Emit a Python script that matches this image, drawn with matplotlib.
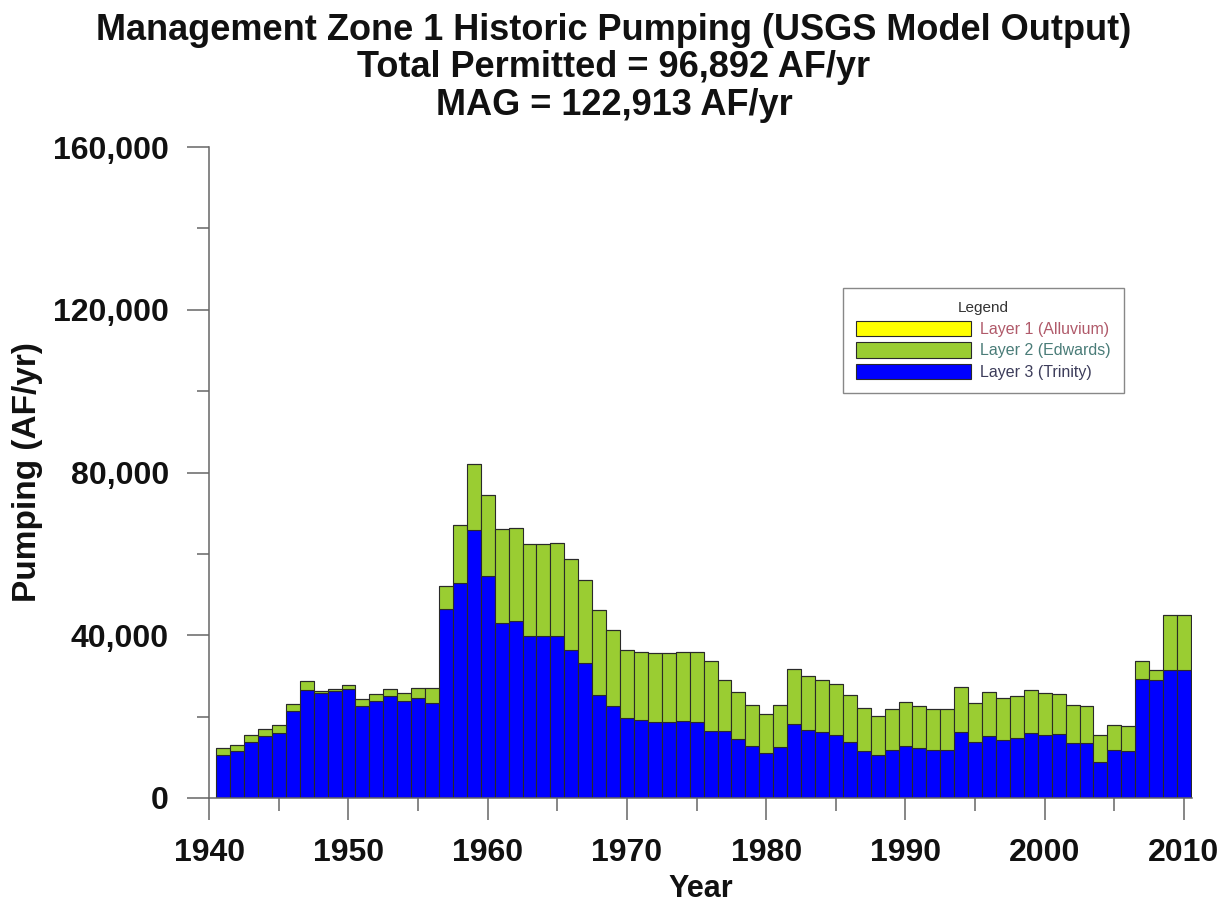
import numpy as np
import matplotlib
matplotlib.use("Agg")
import matplotlib.pyplot as plt
from matplotlib.ticker import MultipleLocator, FuncFormatter

plt.rcParams['font.family'] = ['Liberation Sans', 'DejaVu Sans']

# pumping by layer, AF/yr
years = np.arange(1941, 2011)

alluvium = np.zeros(len(years))

edwards = [1650, 1640, 1890, 1890, 1870, 1890, 2040, 400, 600, 990,
           1640, 1900, 1820, 2070, 2460, 3690, 5550, 14330, 16390, 19910,
           23110, 22860, 22790, 22710, 22790, 22300, 20480, 20890, 18680, 16620,
           16720, 17060, 16980, 17130, 17380, 17040, 12540, 11380, 10240, 9590,
           10490, 13520, 13100, 12860, 12460, 11560, 10390, 9590, 10010, 10810,
           10400, 10010, 10010, 10970, 9590, 10650, 10250, 10500, 10640, 10250,
           9830, 9410, 9000, 6710, 6070, 6140, 4330, 2540, 13340, 13340]

trinity = [10640, 11460, 13670, 15140, 15980, 21290, 26620, 25810, 26200, 26790,
           22690, 23740, 24970, 23740, 24580, 23350, 46460, 52850, 65780, 54640,
           43010, 43410, 39720, 39720, 39890, 36450, 33180, 25220, 22690, 19660,
           19070, 18580, 18580, 18830, 18580, 16540, 16540, 14580, 12690, 11060,
           12440, 18190, 16790, 16220, 15560, 13760, 11630, 10470, 11870, 12860,
           12290, 11870, 11870, 16220, 13760, 15310, 14330, 14650, 15980, 15560,
           15730, 13520, 13520, 8850, 11870, 11460, 29250, 29000, 31540, 31540]

labels = ['Layer 1 (Alluvium)', 'Layer 2 (Edwards)', 'Layer 3 (Trinity)']
colors = ['#FFFF00', '#9ACD32', '#0000FF']
label_colors = ['#b05a6a', '#4a7c78', '#3c3c5a']

trinity = np.array(trinity)
edwards = np.array(edwards)

fig = plt.figure(figsize=(12.28, 9.07), dpi=100)
ax = fig.add_axes([0.1704, 0.1202, 0.8, 0.7177])

edge = '#2a2a2a'
b3 = ax.bar(years, trinity, width=1.0, color=colors[2], edgecolor=edge, linewidth=0.8)
b2 = ax.bar(years, edwards, width=1.0, bottom=trinity, color=colors[1],
            edgecolor=edge, linewidth=0.8)
b1 = ax.bar(years, alluvium, width=1.0, bottom=trinity + edwards, color=colors[0],
            edgecolor=edge, linewidth=0.8)

ax.set_xlim(1940, 2010.55)
ax.set_ylim(0, 160000)

ax.spines['top'].set_visible(False)
ax.spines['right'].set_visible(False)
for s in ['left', 'bottom']:
    ax.spines[s].set_color('#666666')
    ax.spines[s].set_linewidth(1.1)

ax.xaxis.set_major_locator(MultipleLocator(10))
ax.xaxis.set_minor_locator(MultipleLocator(5))
ax.yaxis.set_major_locator(MultipleLocator(40000))
ax.yaxis.set_minor_locator(MultipleLocator(20000))
ax.yaxis.set_major_formatter(FuncFormatter(lambda v, p: f'{int(v):,}'))

ax.tick_params(which='major', length=16, width=1.1, color='#666666',
               labelsize=23, direction='out')
ax.tick_params(which='minor', length=9, width=1.1, color='#666666', direction='out')
ax.tick_params(axis='y', which='major', pad=13)
ax.tick_params(axis='x', which='major', pad=13)
for lab in ax.get_xticklabels() + ax.get_yticklabels():
    lab.set_fontweight('bold')
    lab.set_color('#111111')

fig.text(0.5 * (0.1704 + 0.9704), 1 - 889 / 907, 'Year', ha='center', va='center',
         fontsize=22, fontweight='bold', color='#111111')
fig.text(28 / 1228, 1 - 472 / 907, 'Pumping (AF/yr)', rotation=90, ha='center',
         va='center', fontsize=24, fontweight='bold', color='#111111')

fig.suptitle('Management Zone 1 Historic Pumping (USGS Model Output)\n'
             'Total Permitted = 96,892 AF/yr\nMAG = 122,913 AF/yr',
             x=0.5, y=0.986, fontsize=26, fontweight='bold', color='#111111',
             linespacing=1.1)

leg = ax.legend([b1, b2, b3], labels, title='Legend', loc='upper left',
                bbox_to_anchor=(0.645, 0.783), borderaxespad=0,
                fontsize=11.5, title_fontsize=11,
                handlelength=7.2, handleheight=1.1, labelspacing=0.35,
                handletextpad=0.6, borderpad=0.8,
                fancybox=False, framealpha=1, edgecolor='#888888')
for t, c in zip(leg.get_texts(), label_colors):
    t.set_color(c)
leg.get_title().set_color('#333333')

fig.savefig('out.png', dpi=100)
